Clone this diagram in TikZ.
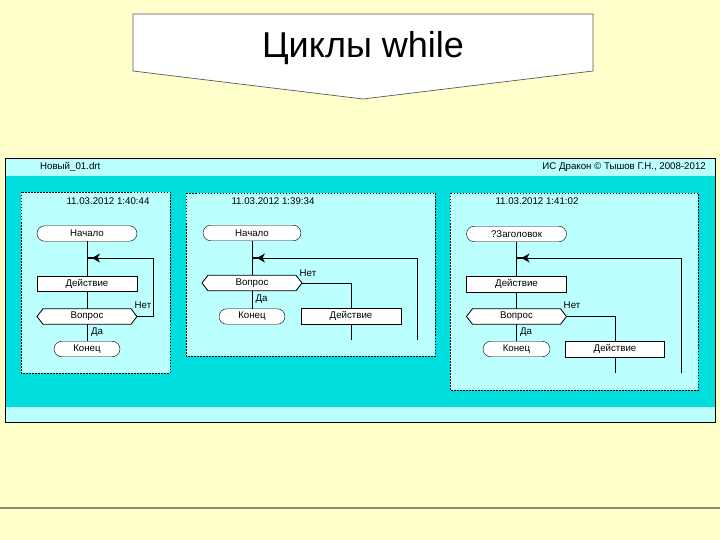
\documentclass[tikz,border=0pt]{standalone}
\usepackage{fontspec}
\setmainfont{Liberation Sans}
\usetikzlibrary{arrows.meta,calc}
\definecolor{bgy}{HTML}{FFFFCC}
\definecolor{lcyan}{HTML}{BBFFFF}
\definecolor{dcyan}{HTML}{00DDDD}
\definecolor{rulegray}{HTML}{8C8C6E}
\definecolor{titleedge}{HTML}{5A5A5A}
\tikzset{
  txt/.style={font=\fontsize{9.7}{11}\selectfont, inner sep=0pt},
  termbox/.style={txt, draw, fill=white, minimum height=15.5pt, rounded corners=7.75pt},
  actbox/.style={txt, draw, fill=white, minimum height=15.5pt, minimum width=100pt},
  qnode/.style={txt, minimum height=15.5pt, minimum width=100pt},
  panel/.style={draw, fill=lcyan, dash pattern=on 1.5pt off 1.5pt, line width=0.7pt},
  lbl/.style={txt},
  looparrow/.style={-{Stealth[length=8pt,width=9pt,inset=2.5pt]}, shorten >=5pt},
  stub/.style={line width=2.6pt},
  flow/.style={line width=0.85pt}
}
\newcommand\qbox[4]{%
  \draw[fill=white, line width=0.85pt] ({#2-50},#3) -- ({#2-44},{#3-7.75}) -- ({#2+44},{#3-7.75}) -- ({#2+50},#3) -- ({#2+44},{#3+7.75}) -- ({#2-44},{#3+7.75}) -- cycle;
  \node[qnode] (#1) at (#2,#3) {#4};}
\begin{document}
\begin{tikzpicture}[x=1pt,y=-1pt]
\useasboundingbox (0,0) rectangle (720,540);
\fill[bgy] (0,0) rectangle (720,540);
\draw[rulegray, line width=1.5pt] (0,508) -- (720,508);
% title
\draw[fill=white, draw=titleedge, line width=0.7pt] (133,14) -- (593,14) -- (593,71) -- (363,99) -- (133,71) -- cycle;
\node[font=\fontsize{36}{40}\selectfont, inner sep=0pt] (title) at (363,48) {Циклы while};
% window
\fill[lcyan] (5,158) rectangle (715,176);
\fill[dcyan] (5,176) rectangle (715,407);
\fill[lcyan] (5,407) rectangle (715,422);
\draw[line width=0.9pt] (5,158) rectangle (715,422);
\node[txt, anchor=west] (fname) at (40,167) {Новый\_01.drt};
\node[txt, anchor=east] (copy) at (706,167) {ИС Дракон © Тышов Г.Н., 2008-2012};
% panels
\draw[panel] (21,192) rectangle (170,373);
\draw[panel] (186,193) rectangle (435,356);
\draw[panel] (450,193) rectangle (698,390);
% ===== panel 1 =====
\node[txt] (d1) at (108,201) {11.03.2012 1:40:44};
\node[termbox, minimum width=100pt] (s1) at (87,233.5) {Начало};
\node[actbox] (a1) at (87,283.5) {Действие};
\qbox{q1}{87}{316.5}{Вопрос}
\node[termbox, minimum width=66pt] (e1) at (87,349) {Конец};
\coordinate (j1) at (87,258);
\coordinate (r1) at (153,258);
\draw[flow] (s1) -- (a1);
\draw[flow] (a1) -- (q1);
\draw[flow] (q1) -- (e1);
\draw[flow, looparrow] (q1.east) -| (r1) -- (j1);
\draw[stub] (j1) -- ++(6,0);
\node[lbl] (n1) at (143,305) {Нет};
\node[lbl] (y1) at (97,332.5) {Да};
% ===== panel 2 =====
\node[txt] (d2) at (273,201) {11.03.2012 1:39:34};
\node[termbox, minimum width=98pt] (s2) at (252,233) {Начало};
\qbox{q2}{252}{283}{Вопрос}
\node[termbox, minimum width=66pt] (e2) at (252,316.5) {Конец};
\node[actbox] (a2) at (351,316.3) {Действие};
\coordinate (j2) at (252,258);
\coordinate (t2) at (351,340);
\coordinate (b2) at (417,340);
\coordinate (r2) at (417,258);
\draw[flow] (s2) -- (q2);
\draw[flow] (q2) -- (e2);
\draw[flow] (q2.east) -| (a2.north);
\draw[flow] (a2) -- (t2);
\draw[flow, looparrow] (b2) -- (r2) -- (j2);
\draw[stub] (j2) -- ++(6,0);
\node[lbl] (n2) at (308,273) {Нет};
\node[lbl] (y2) at (261.5,299) {Да};
% ===== panel 3 =====
\node[txt] (d3) at (537,201) {11.03.2012 1:41:02};
\node[termbox, minimum width=100pt] (s3) at (516.5,234) {?Заголовок};
\node[actbox] (a3) at (516.5,284) {Действие};
\qbox{q3}{516.5}{316.5}{Вопрос}
\node[termbox, minimum width=67pt] (e3) at (516.5,349) {Конец};
\node[actbox, minimum width=99pt] (a4) at (615,349) {Действие};
\coordinate (j3) at (516.5,258);
\coordinate (t3) at (615,373);
\coordinate (b3) at (681,373);
\coordinate (r3) at (681,258);
\draw[flow] (s3) -- (a3);
\draw[flow] (a3) -- (q3);
\draw[flow] (q3) -- (e3);
\draw[flow] (q3.east) -| (a4.north);
\draw[flow] (a4) -- (t3);
\draw[flow, looparrow] (b3) -- (r3) -- (j3);
\draw[stub] (j3) -- ++(6,0);
\node[lbl] (n3) at (572,305.5) {Нет};
\node[lbl] (y3) at (526,332.5) {Да};
\end{tikzpicture}
\end{document}
